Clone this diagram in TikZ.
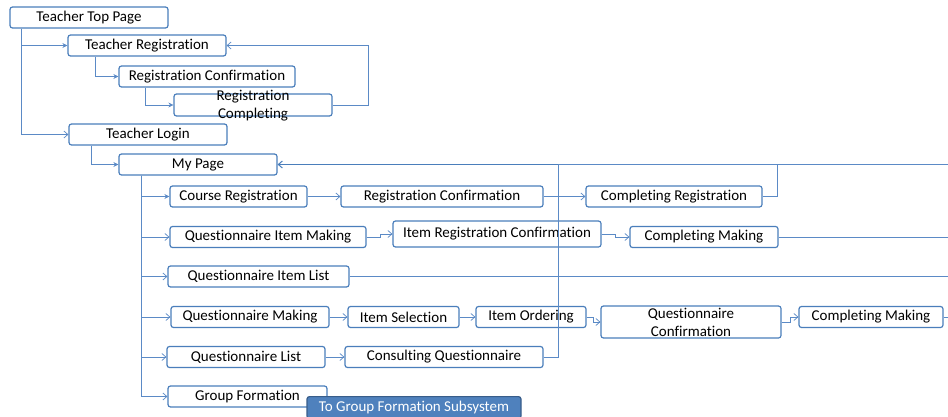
\documentclass[tikz,border=0pt]{standalone}
\usepackage{fontspec}
\setmainfont[Ligatures=NoCommon]{Carlito}
\usetikzlibrary{arrows.meta,calc}
\definecolor{bx}{RGB}{74,126,187}
\definecolor{ln}{RGB}{91,138,198}
\definecolor{subfill}{RGB}{79,129,189}
\definecolor{subdraw}{RGB}{56,93,138}
\begin{document}
\begin{tikzpicture}[x=1pt,y=-1pt,
 box/.style={draw=bx,line width=1.2pt,rounded corners=2.5pt,minimum height=21pt,inner sep=0pt,font=\fontsize{15}{18}\selectfont,align=center,fill=white},
 conn/.style={draw=ln,line width=0.7pt},
 thick conn/.style={draw=bx,line width=1pt},
 oa/.style={conn,-{Straight Barb[length=4pt,width=7pt]}},
 fa/.style={conn,-{Stealth[length=5pt,width=5pt]}},
]
\useasboundingbox (0,0) rectangle (948,417);
% nodes
\node[box,minimum width=158pt] (top) at (89,17.5) {Teacher Top Page};
\node[box,minimum width=158pt] (treg) at (147,45.5) {Teacher Registration};
\node[box,minimum width=176pt] (rconf) at (207,76.5) {Registration Confirmation};
\node[box,minimum width=158pt,minimum height=22pt] (rcomp) at (253,105) {};
\node[font=\fontsize{15}{18}\selectfont,align=center,inner sep=0pt] (rcompt) at (253,106) {Registration\\Completing};
\node[box,minimum width=158pt] (login) at (148,134.5) {Teacher Login};
\node[box,minimum width=158pt] (mypage) at (198,164.5) {My Page};
\node[box,minimum width=137pt] (course) at (238.5,196.5) {Course Registration};
\node[box,minimum width=202pt] (rconf2) at (442,196.5) {Registration Confirmation};
\node[box,minimum width=176pt] (compreg) at (674,196.5) {Completing Registration};
\node[box,minimum width=196pt] (qimake) at (268,237) {Questionnaire Item Making};
\node[box,minimum width=208pt,minimum height=26pt] (itemreg) at (497,234) {Item Registration Confirmation};
\node[box,minimum width=148pt] (compmake1) at (704,237) {Completing Making};
\node[box,minimum width=181pt] (qilist) at (258.5,276.5) {Questionnaire Item List};
\node[box,minimum width=158pt] (qmake) at (250,317) {Questionnaire Making};
\node[box,minimum width=111pt] (itemsel) at (403.5,317) {Item Selection};
\node[box,minimum width=110pt] (itemord) at (531,317) {Item Ordering};
\node[box,minimum width=180pt,minimum height=32pt] (qconf) at (691,322) {Questionnaire\\Confirmation};
\node[box,minimum width=144pt] (compmake2) at (871,317) {Completing Making};
\node[box,minimum width=158pt] (qlist) at (246,357) {Questionnaire List};
\node[box,minimum width=198pt] (consult) at (444,357) {Consulting Questionnaire};
\node[box,minimum width=159pt] (group) at (247.5,396.5) {Group Formation};
\node[box,draw=subdraw,fill=subfill,text=white,minimum width=214pt,minimum height=22pt,anchor=north] (sub) at (414,396) {To Group Formation Subsystem};
% free ends at right edge
\coordinate (e1) at (948,164.5);
\coordinate (e2) at (948,237);
\coordinate (e3) at (948,276.5);
\coordinate (e4) at (948,317);
% connectors: upper part
\draw[fa] ($(top.south west)+(12,0)$) |- (treg.west);
\draw[oa] ($(top.south west)+(12,0)$) |- (login.west);
\draw[fa] ($(treg.south west)+(28,0)$) |- (rconf.west);
\draw[fa] ($(rconf.south west)+(27,0)$) |- (rcomp.west);
\draw[oa] (rcomp.east) -- ++(36,0) |- (treg.east);
\draw[fa] ($(login.south west)+(23,0)$) |- (mypage.west);
\draw[oa,thick conn] (e1) -- (mypage.east);
% trunk
\draw[thick conn] ($(mypage.south west)+(23,0)$) -- ($(mypage.south west)+(23,0)$ |- group.west);
\draw[fa] ($(mypage.south west)+(23,0)$) |- (course.west);
\draw[oa] ($(mypage.south west)+(23,0)$) |- (qimake.west);
\draw[oa] ($(mypage.south west)+(23,0)$) |- (qilist.west);
\draw[oa] ($(mypage.south west)+(23,0)$) |- (qmake.west);
\draw[oa] ($(mypage.south west)+(23,0)$) |- (qlist.west);
\draw[oa] ($(mypage.south west)+(23,0)$) |- (group.west);
% rows
\draw[oa] (course.east) -- (rconf2.west);
\draw[oa] (rconf2.east) -- (compreg.west);
\draw[conn] (compreg.east) -- ++(15,0) |- (e1);
\draw[oa] (qimake.east) -- ++(14,0) |- (itemreg.west);
\draw[oa] (itemreg.east) -- ++(14,0) |- (compmake1.west);
\draw[conn] (compmake1.east) -- (e2);
\draw[conn] (qilist.east) -- (e3);
\draw[oa] (qmake.east) -- (itemsel.west);
\draw[oa] (itemsel.east) -- (itemord.west);
\draw[oa] (itemord.east) -- ++(7,0) |- (qconf.west);
\draw[oa] (qconf.east) -- ++(9,0) |- (compmake2.west);
\draw[conn] (compmake2.east) -- (e4);
\draw[oa] (qlist.east) -- (consult.west);
\draw[conn] (consult.east) -- ++(15,0) |- (e1);
\end{tikzpicture}
\end{document}
